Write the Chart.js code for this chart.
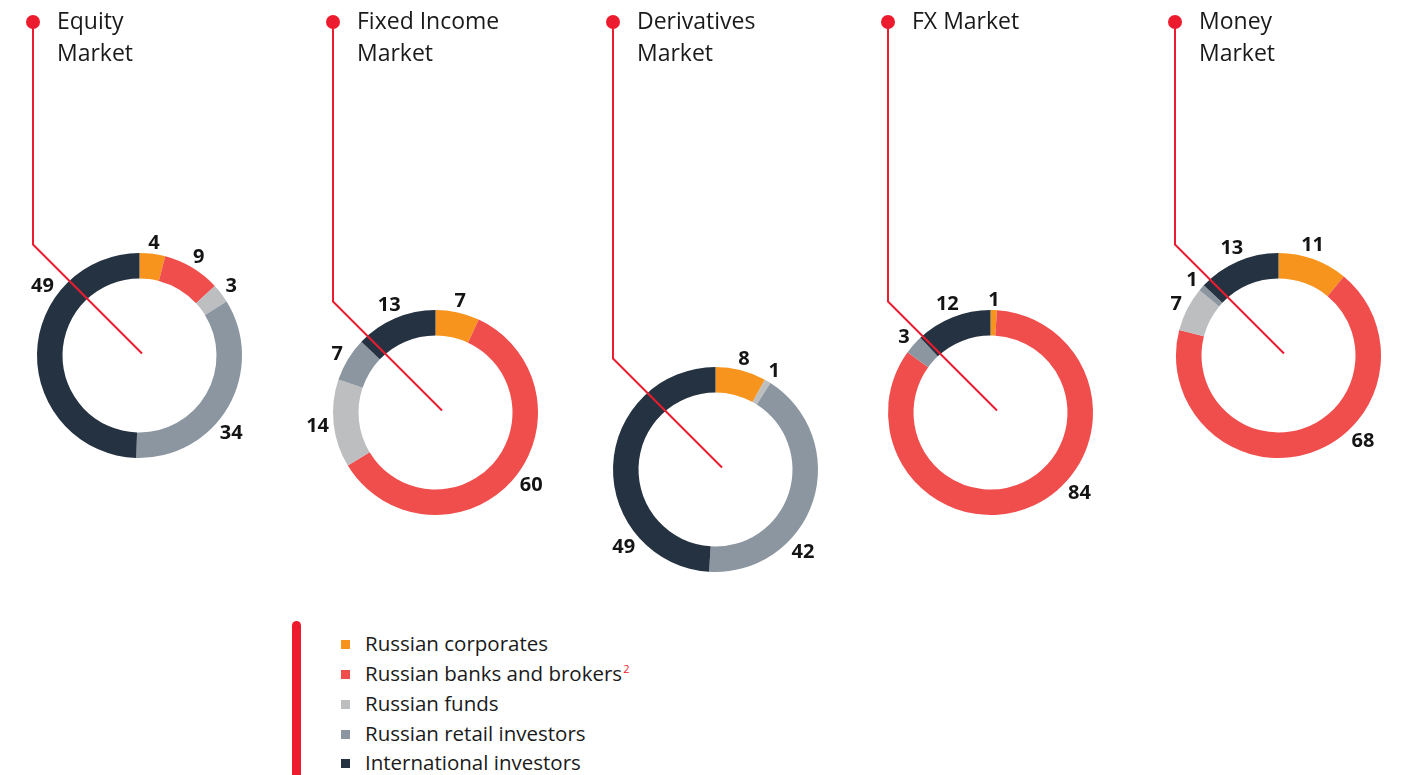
<!DOCTYPE html>
<html>
<head>
<meta charset="utf-8">
<script src="https://cdn.jsdelivr.net/npm/chart.js@4/dist/chart.umd.min.js"></script>
<style>
  html, body { margin: 0; padding: 0; background: #fff; width: 1401px; height: 775px; overflow: hidden; }
  #wrap { position: relative; width: 1401px; height: 775px; }
  canvas { position: absolute; }
  .legend { position: absolute; left: 0; top: 0; font-family: "Open Sans", sans-serif; font-size: 20.5px; color: #1a1a1a; }
  .bar { position: absolute; left: 292px; top: 621px; width: 9px; height: 170px; background: #ec1c2e; border-radius: 5px; }
  .item { position: absolute; left: 341px; height: 30px; line-height: 30px; white-space: nowrap; }
  .item i { display: inline-block; width: 9px; height: 9px; margin-right: 15px; vertical-align: middle; position: relative; top: -1px; }
  .item sup { color: #ec1c2e; font-size: 11px; vertical-align: baseline; position: relative; top: -8px; margin-left: 1px; }
</style>
</head>
<body>
<div id="wrap"></div>
<script>
// categories (same order in every chart)
const categories = ["Russian corporates", "Russian banks and brokers", "Russian funds", "Russian retail investors", "International investors"]
const colors = ["#f7941d", "#f04e4c", "#bcbec0", "#8c96a0", "#253241"]

const marketTitles = [["Equity", "Market"], ["Fixed Income", "Market"], ["Derivatives", "Market"], ["FX Market"], ["Money", "Market"]]

// values, %
const equityValues = [4, 9, 3, 34, 49]
const fixedIncomeValues = [7, 60, 14, 7, 13]
const derivativesValues = [8, 0, 1, 42, 49]
const fxValues = [1, 84, 0, 3, 12]
const moneyValues = [11, 68, 7, 1, 13]

const allValues = [equityValues, fixedIncomeValues, derivativesValues, fxValues, moneyValues]

// layout only: doughnut centre, title dot x, label angle overrides (deg from top, clockwise)
const layout = [
  { cx: 139.5, cy: 355.5, dotX: 33, angles: { 3: 130, 4: 306 } },
  { cx: 435.5, cy: 412.5, dotX: 333, angles: { 1: 127 } },
  { cx: 715.5, cy: 469.5, dotX: 613, angles: { 3: 133, 4: 230 } },
  { cx: 990.5, cy: 412.5, dotX: 888, angles: { 1: 132 } },
  { cx: 1278.5, cy: 355.5, dotX: 1175, angles: { 0: 17, 1: 135 } },
]

const RED = "#ec1c2e"
const R = 102.5
const INNER = 77
const W = 280

const decorPlugin = {
  id: "decor",
  afterDatasetsDraw(chart, args, opts) {
    const ctx = chart.ctx
    const meta = chart.getDatasetMeta(0)
    const ox = opts.left
    const L = opts.layout
    const dx = L.dotX - ox

    // value labels
    ctx.save()
    ctx.font = "bold 20px 'Open Sans', sans-serif"
    ctx.fillStyle = "#141414"
    ctx.textAlign = "center"
    ctx.textBaseline = "middle"
    meta.data.forEach((arc, i) => {
      const v = chart.data.datasets[0].data[i]
      if (!v) return
      let a = (arc.startAngle + arc.endAngle) / 2
      if (L.angles[i] !== undefined) a = L.angles[i] * Math.PI / 180 - Math.PI / 2
      const txt = String(v)
      const w = ctx.measureText(txt).width
      const h = 14
      const r = arc.outerRadius + 4 + (w / 2) * Math.abs(Math.cos(a)) + (h / 2) * Math.abs(Math.sin(a))
      ctx.fillText(txt, arc.x + r * Math.cos(a), arc.y + r * Math.sin(a) + 1)
    })
    ctx.restore()

    // red leader line
    const endY = meta.data[0].y - 2
    ctx.save()
    ctx.strokeStyle = RED
    ctx.lineWidth = 2
    ctx.beginPath()
    ctx.moveTo(dx, 22)
    ctx.lineTo(dx, endY - 109)
    ctx.lineTo(dx + 109, endY)
    ctx.stroke()
    ctx.fillStyle = RED
    ctx.beginPath()
    ctx.arc(dx, 22, 7, 0, Math.PI * 2)
    ctx.fill()

    // title
    ctx.fillStyle = "#1a1a1a"
    ctx.font = "23px 'Open Sans', sans-serif"
    ctx.textAlign = "left"
    ctx.textBaseline = "middle"
    opts.title.forEach((line, k) => ctx.fillText(line, dx + 24, 22 + k * 32))
    ctx.restore()
  },
}

const wrap = document.getElementById("wrap")

allValues.forEach((values, i) => {
  const L = layout[i]
  const left = Math.round(L.cx - W / 2)
  const H = Math.round(L.cy + 140)
  const canvas = document.createElement("canvas")
  canvas.width = W
  canvas.height = H
  canvas.style.left = left + "px"
  canvas.style.top = "0px"
  canvas.style.width = W + "px"
  canvas.style.height = H + "px"
  wrap.appendChild(canvas)

  const localCx = L.cx - left
  new Chart(canvas.getContext("2d"), {
    type: "doughnut",
    data: {
      labels: categories,
      datasets: [
        {
          data: values,
          backgroundColor: colors,
          borderWidth: 0,
          hoverOffset: 0,
          offset: 0,
        },
      ],
    },
    options: {
      responsive: false,
      animation: false,
      radius: R,
      cutout: (INNER / R * 100).toFixed(2) + "%",
      layout: {
        padding: {
          left: localCx - R - 10,
          right: W - localCx - R - 10,
          top: L.cy - R - 10,
          bottom: H - L.cy - R - 10,
        },
      },
      plugins: {
        legend: { display: false },
        tooltip: { enabled: false },
        decor: { left: left, layout: L, title: marketTitles[i] },
      },
    },
    plugins: [decorPlugin],
  })
})

// legend
const legend = document.createElement("div")
legend.className = "legend"
legend.innerHTML = '<div class="bar"></div>'
const rowCentres = [643, 673, 703, 733, 762]
categories.forEach((name, i) => {
  const d = document.createElement("div")
  d.className = "item"
  d.style.top = (rowCentres[i] - 15) + "px"
  d.innerHTML = '<i style="background:' + colors[i] + '"></i>' + name + (i === 1 ? "<sup>2</sup>" : "")
  legend.appendChild(d)
})
wrap.appendChild(legend)
</script>
</body>
</html>
